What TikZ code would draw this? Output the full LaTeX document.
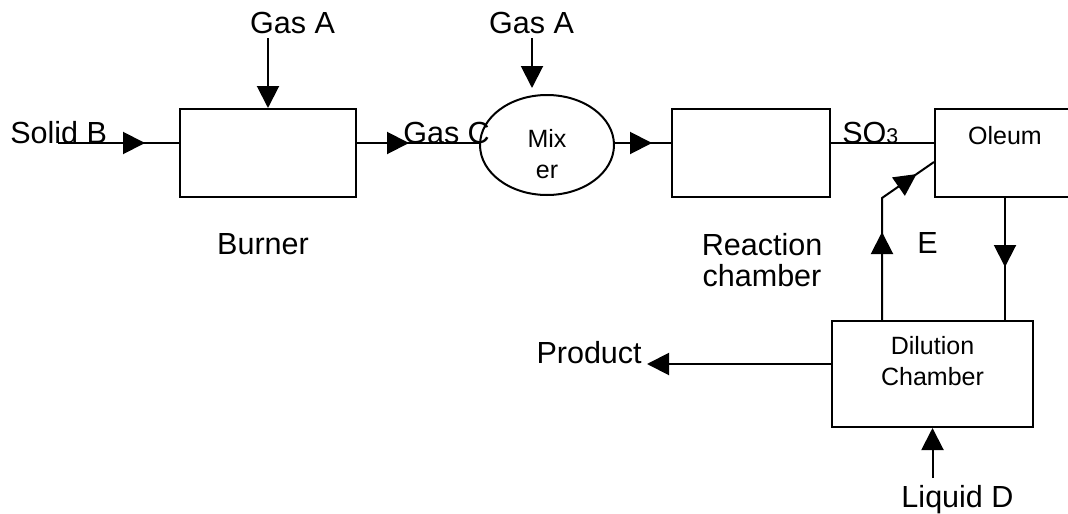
\documentclass[tikz,border=0pt]{standalone}
\usepackage{fontspec}
\setmainfont{Liberation Sans}
\usetikzlibrary{arrows.meta,shapes.geometric,decorations.markings}
\tikzset{
  box/.style={draw, line width=1.5pt, inner sep=0pt},
  big/.style={font=\fontsize{22.9}{23.25}\selectfont, inner sep=0pt, align=center},
  small/.style={font=\fontsize{18.75}{23.25}\selectfont, inner sep=0pt, align=center},
  flow/.style={line width=1.5pt},
  tip/.style={-{Triangle[length=16.5pt,width=16.5pt]}},
  midtip/.style={decoration={markings, mark=at position #1 with {\arrow{Triangle[length=16.5pt,width=16.5pt]}}}, postaction={decorate}},
}
\begin{document}
\begin{tikzpicture}[x=0.75pt,y=-0.75pt]
\useasboundingbox (0,0) rectangle (1068,514);
\clip (0,0) rectangle (1068,514);
\fill[white] (0,0) rectangle (1068,514);

% units
\node[box, minimum width=132pt, minimum height=66pt] (burner) at (268,153) {};
\node[box, ellipse, minimum width=100.5pt, minimum height=75pt] (mixer) at (547,145) {};
\node[box, minimum width=118.5pt, minimum height=66pt] (reaction) at (751,153) {};
\node[box, minimum width=105pt, minimum height=66pt] (oleum) at (1005,153) {};
\node[box, minimum width=150.75pt, minimum height=79.5pt] (dil) at (932.5,374) {};

% texts inside
\node[small] (mixtext) at (547,154) {Mix\\er};
\node[small, anchor=base] (oleumtext) at (1005,144) {Oleum};
\node[small] (diltext) at (932.5,361.5) {Dilution\\Chamber};

% labels
\node[big, anchor=base west] (solidB) at (10,143) {Solid B};
\node[big, anchor=base west] (gasC) at (403,143) {Gas C};
\node[big, anchor=base] (gasA1) at (292.5,33) {Gas A};
\node[big, anchor=base] (gasA2) at (531.5,33) {Gas A};
\node[big, anchor=base west] (so3) at (842,143) {SO{\fontsize{16}{16}\selectfont 3}};
\node[big, anchor=base] (burnerlbl) at (263,254) {Burner};
\node[big] (reactlbl) at (762,260) {Reaction\\chamber};
\node[big, anchor=base west] (elbl) at (917,253) {E};
\node[big, anchor=base east] (product) at (642,363) {Product};
\node[big, anchor=base] (liquidD) at (957.5,507) {Liquid D};

% free ends and line points
\coordinate (sB) at (58,143);
\coordinate (gA1) at (268,38);
\coordinate (gA2) at (532,38);
\coordinate (pr) at (647,364);
\coordinate (ld) at (932.5,478);
\coordinate (bw) at ([yshift=7.5pt]burner.west);
\coordinate (be) at ([yshift=7.5pt]burner.east);
\coordinate (rw) at ([yshift=7.5pt]reaction.west);
\coordinate (re) at ([yshift=7.5pt]reaction.east);
\coordinate (ow) at ([yshift=7.5pt]oleum.west);

% connectors
\draw[flow, midtip=65.25pt] (sB) -- (bw);
\draw[flow, midtip=39pt] (be) -- (be -| mixer.west);
\draw[flow, tip] (gA1) -- (burner.north);
\draw[flow, tip, shorten >=4.5pt] (gA2) -- (gA2 |- mixer.north);
\draw[flow, midtip=27.75pt] (rw -| mixer.east) -- (rw);
\draw[flow] (re) -- (ow);
\draw[flow, decoration={markings,
    mark=at position 66pt with {\arrow{Triangle[length=16.5pt,width=16.5pt]}},
    mark=at position 123pt with {\arrow{Triangle[length=16.5pt,width=16.5pt]}}},
    postaction={decorate}]
  ([xshift=-37.875pt]dil.north) -- ([xshift=-37.875pt]dil.north |- oleum.south) -- ([yshift=-6.75pt]oleum.west);
\draw[flow, midtip=51.75pt] (oleum.south) -- (oleum.south |- dil.north);
\draw[flow, tip] ([yshift=7.5pt]dil.west) -- (pr);
\draw[flow, tip] (ld) -- (dil.south);
\end{tikzpicture}
\end{document}
